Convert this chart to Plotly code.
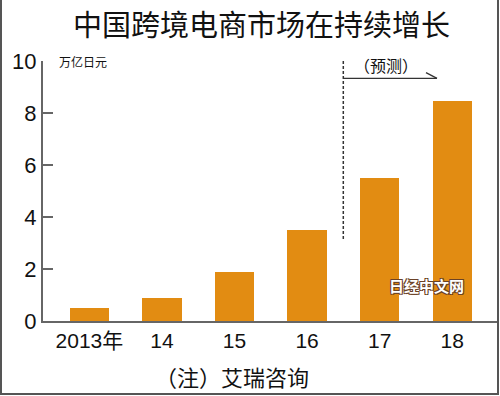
import plotly.graph_objects as go

categories = ["2013年", "14", "15", "16", "17", "18"]
values = [0.5, 0.9, 1.9, 3.5, 5.5, 8.45]
y_ticks = [0, 2, 4, 6, 8, 10]

title_text = "中国跨境电商市场在持续增长"
unit_text = "万亿日元"
forecast_text = "（预测）"
note_text = "（注）艾瑞咨询"
watermark_text = "日经中文网"

NUM_FONT = "Liberation Sans Narrow, Arial Narrow, Liberation Sans, Arial, sans-serif"
CJK_FONT = "Noto Sans CJK SC, Noto Sans CJK JP, sans-serif"

xs = list(range(len(categories)))

fig = go.Figure()
fig.add_trace(go.Bar(
    x=xs, y=values, width=0.542,
    marker=dict(color="#E28C12", line=dict(width=0)),
    hoverinfo="skip",
))

W, H = 500, 396
L, R, T, B = 43, 3, 61, 75
pw = W - L - R
ph = H - T - B

def px_to_paper_x(px):
    return (px - L) / pw

def px_to_paper_y(py):
    return (H - B - py) / ph

fig.update_layout(
    width=W, height=H,
    margin=dict(l=L, r=R, t=T, b=B, pad=0),
    plot_bgcolor="white", paper_bgcolor="white",
    showlegend=False,
    bargap=0,
    xaxis=dict(
        range=[-0.64, -0.64 + pw / 72.55],
        tickmode="array", tickvals=xs, ticktext=categories,
        showline=True, linecolor="#666666", linewidth=2,
        ticks="", showgrid=False, zeroline=False,
        tickfont=dict(family=NUM_FONT + ", " + CJK_FONT, size=21, color="#111111"),
        fixedrange=True,
    ),
    yaxis=dict(
        range=[0, 10],
        tickmode="array", tickvals=y_ticks,
        showline=True, linecolor="#666666", linewidth=2,
        ticks="inside", ticklen=10, tickwidth=1.5, tickcolor="#666666",
        showgrid=False, zeroline=False,
        tickfont=dict(family=NUM_FONT, size=22, color="#111111"),
        fixedrange=True,
    ),
)

annotations = [
    dict(text=title_text, x=px_to_paper_x(261), y=px_to_paper_y(23), xref="paper", yref="paper",
         showarrow=False, xanchor="center", yanchor="middle",
         font=dict(family=CJK_FONT, size=29, color="#111111")),
    dict(text=unit_text, x=px_to_paper_x(57), y=px_to_paper_y(61), xref="paper", yref="paper",
         showarrow=False, xanchor="left", yanchor="middle",
         font=dict(family=CJK_FONT, size=12, color="#111111")),
    dict(text=forecast_text, x=px_to_paper_x(386), y=px_to_paper_y(65), xref="paper", yref="paper",
         showarrow=False, xanchor="center", yanchor="middle",
         font=dict(family=CJK_FONT, size=16, color="#111111")),
    dict(text=note_text, x=px_to_paper_x(232), y=px_to_paper_y(376), xref="paper", yref="paper",
         showarrow=False, xanchor="center", yanchor="middle",
         font=dict(family=CJK_FONT, size=22, color="#111111")),
    dict(text="<b>" + watermark_text + "</b>", x=px_to_paper_x(426), y=px_to_paper_y(285),
         xref="paper", yref="paper",
         showarrow=False, xanchor="center", yanchor="middle",
         font=dict(family=CJK_FONT, size=15, color="white",
                   shadow="1px 1px 0 #6b4226, -1px -1px 0 #6b4226, 1px -1px 0 #6b4226, -1px 1px 0 #6b4226")),
]
fig.update_layout(annotations=annotations)

shapes = [
    dict(type="line", xref="paper", yref="paper",
         x0=px_to_paper_x(343.3), x1=px_to_paper_x(343.3),
         y0=px_to_paper_y(61), y1=px_to_paper_y(240),
         line=dict(color="#333333", width=1.5, dash="3px,2px")),
    dict(type="line", xref="paper", yref="paper",
         x0=px_to_paper_x(343.3), x1=px_to_paper_x(437),
         y0=px_to_paper_y(78.3), y1=px_to_paper_y(78.3),
         line=dict(color="#333333", width=1.3)),
    dict(type="line", xref="paper", yref="paper",
         x0=px_to_paper_x(437), x1=px_to_paper_x(426),
         y0=px_to_paper_y(78.3), y1=px_to_paper_y(72.7),
         line=dict(color="#333333", width=1.3)),
    dict(type="line", xref="paper", yref="paper",
         x0=px_to_paper_x(1), x1=px_to_paper_x(1), y0=px_to_paper_y(0), y1=px_to_paper_y(394),
         line=dict(color="#555555", width=2)),
    dict(type="line", xref="paper", yref="paper",
         x0=px_to_paper_x(498), x1=px_to_paper_x(498), y0=px_to_paper_y(0), y1=px_to_paper_y(394),
         line=dict(color="#555555", width=2)),
    dict(type="line", xref="paper", yref="paper",
         x0=px_to_paper_x(0), x1=px_to_paper_x(499), y0=px_to_paper_y(394), y1=px_to_paper_y(394),
         line=dict(color="#555555", width=2)),
]
fig.update_layout(shapes=shapes)

fig.write_html(
    "out.html",
    config={"displayModeBar": False},
    post_script="document.body.style.margin='0';document.body.style.padding='0';",
)
